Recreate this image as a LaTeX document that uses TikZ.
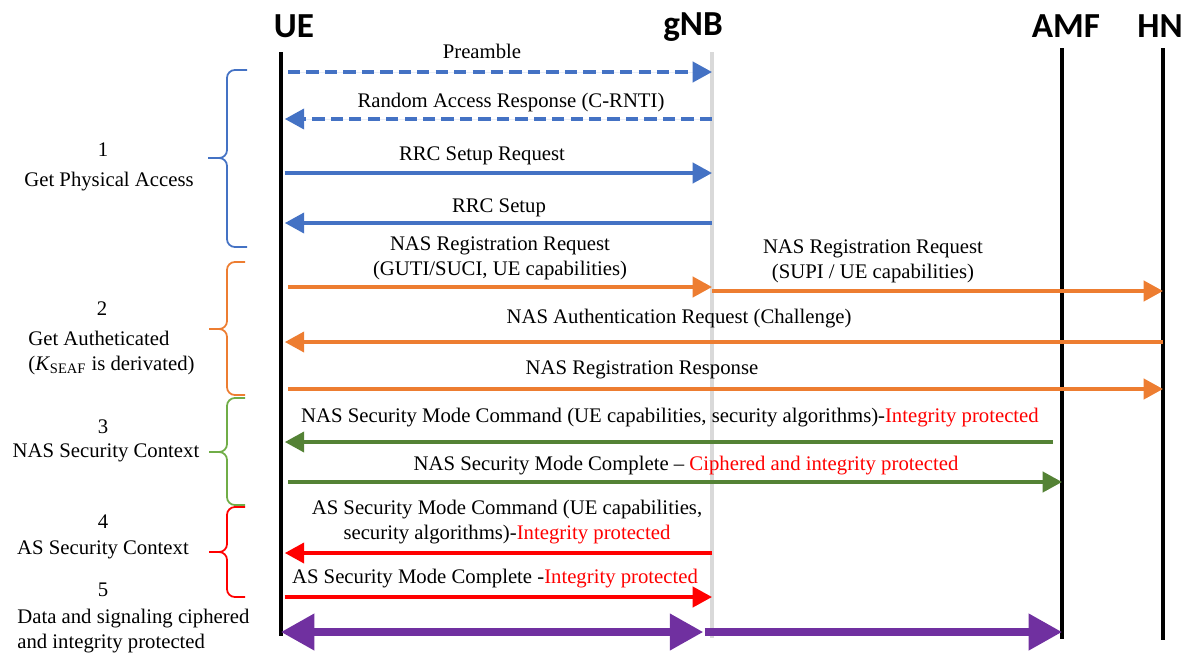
\documentclass[tikz,border=0pt]{standalone}
\usepackage{fontspec}
\setmainfont{Liberation Serif}
\newfontfamily\headfont{Carlito}
\usepackage{xcolor}
\usepackage{tikz}
\usetikzlibrary{arrows.meta}

\begin{document}
\begin{tikzpicture}[x=0.02cm,y=-0.02cm]
    \definecolor{myblue}{RGB}{68,114,196}
    \definecolor{myorange}{RGB}{237,125,49}
    \definecolor{mygreen}{RGB}{84,130,53}
    \definecolor{mygreenl}{RGB}{112,173,71}
    \definecolor{myred}{RGB}{255,0,0}
    \definecolor{mypurple}{RGB}{112,48,160}
    \definecolor{mygray}{RGB}{217,217,217}

    \fontsize{11.8pt}{14.2pt}\selectfont  % text size
    \tikzstyle{head}=[font=\headfont\bfseries\fontsize{20pt}{22pt}\selectfont]  % entity names
    \tikzstyle{life}=[line width=2.4pt]  % lifelines
    \tikzstyle{msg}=[line width=2pt,>={Triangle[length=11pt,width=11.5pt]}]  % messages
    \tikzstyle{big}=[line width=4pt,draw=mypurple,>={Triangle[length=19pt,width=20pt]}]  % data arrows
    \tikzstyle{lbl}=[inner sep=0pt,align=center]  % message texts
    \tikzstyle{brc}=[line width=1pt,rounded corners=4.5pt]  % phase braces
    \tikzstyle{toue}=[shorten >=2.2pt]  % tip stops at UE line

    \useasboundingbox (0,0) rectangle (1186,653);

    % entities
    \node[head](UE) at (294,26){UE};
    \node[head](gNB) at (693,27){gNB};
    \node[head](AMF) at (1066,26){AMF};
    \node[head](HN) at (1160,26){HN};
    \coordinate (ueT) at (281,52);
    \coordinate (ueB) at (281,636);
    \coordinate (gnbT) at (712,52);
    \coordinate (gnbB) at (712,638);
    \coordinate (amfT) at (1062,48);
    \coordinate (amfB) at (1062,639);
    \coordinate (hnT) at (1163,48);
    \coordinate (hnB) at (1163,640);
    \draw[life,draw=mygray,line width=1.8pt](gnbT)--(gnbB);
    \draw[life](ueT)--(ueB);
    \draw[life](amfT)--(amfB);
    \draw[life](hnT)--(hnB);

    % message rows
    \coordinate (m1) at (0,72);
    \coordinate (m2) at (0,119);
    \coordinate (m3) at (0,173);
    \coordinate (m4) at (0,223);
    \coordinate (m5) at (0,287);
    \coordinate (m6) at (0,291);
    \coordinate (m7) at (0,342);
    \coordinate (m8) at (0,389);
    \coordinate (m9) at (0,442);
    \coordinate (m10) at (0,482);
    \coordinate (m11) at (0,553);
    \coordinate (m12) at (0,597);
    \coordinate (m13) at (0,632);

    % labels
    \node[lbl](l1) at (482,51){Preamble};
    \node[lbl](l2) at (511,103){Random Access Response (C-RNTI)};
    \node[lbl](l3) at (482,156){RRC Setup Request};
    \node[lbl](l4) at (499,208){RRC Setup};
    \node[lbl](l5) at (500,258){NAS Registration Request\\(GUTI/SUCI, UE capabilities)};
    \node[lbl](l6) at (873,261){NAS Registration Request\\(SUPI / UE capabilities)};
    \node[lbl](l7) at (679,319){NAS Authentication Request (Challenge)};
    \node[lbl](l8) at (642,370){NAS Registration Response};
    \node[lbl](l9) at (670,418){NAS Security Mode Command (UE capabilities, security algorithms)-\textcolor{myred}{Integrity protected}};
    \node[lbl](l10) at (686,466){NAS Security Mode Complete -- \textcolor{myred}{Ciphered and integrity protected}};
    \node[lbl](l11) at (507,522){AS Security Mode Command (UE capabilities,\\security algorithms)-\textcolor{myred}{Integrity protected}};
    \node[lbl](l12) at (495,579){AS Security Mode Complete -\textcolor{myred}{Integrity protected}};

    % messages
    \draw[msg,->,draw=myblue,fill=myblue,dash pattern=on 7pt off 3.5pt]([xshift=4pt]ueT|-m1)--(gnbT|-m1);
    \draw[msg,->,draw=myblue,fill=myblue,dash pattern=on 7pt off 3.5pt,toue](gnbT|-m2)--(ueT|-m2);
    \draw[msg,->,draw=myblue,fill=myblue]([xshift=2pt]ueT|-m3)--(gnbT|-m3);
    \draw[msg,->,draw=myblue,fill=myblue,toue](gnbT|-m4)--(ueT|-m4);
    \draw[msg,->,draw=myorange,fill=myorange]([xshift=4pt]ueT|-m5)--(gnbT|-m5);
    \draw[msg,->,draw=myorange,fill=myorange](gnbT|-m6)--(hnT|-m6);
    \draw[msg,->,draw=myorange,fill=myorange,toue](hnT|-m7)--(ueT|-m7);
    \draw[msg,->,draw=myorange,fill=myorange]([xshift=4pt]ueT|-m8)--(hnT|-m8);
    \draw[msg,->,draw=mygreen,fill=mygreen,toue]([xshift=-5pt]amfT|-m9)--(ueT|-m9);
    \draw[msg,->,draw=mygreen,fill=mygreen]([xshift=4pt]ueT|-m10)--(amfT|-m10);
    \draw[msg,->,draw=myred,fill=myred,toue](gnbT|-m11)--(ueT|-m11);
    \draw[msg,->,draw=myred,fill=myred]([xshift=2pt]ueT|-m12)--(gnbT|-m12);
    \draw[big,<->,fill=mypurple](ueT|-m13)--([xshift=-5pt]gnbT|-m13);
    \draw[big,->,fill=mypurple]([xshift=-4pt]gnbT|-m13)--(amfT|-m13);

    % phases
    \draw[brc,draw=myblue](247,70)--(227,70)--(227,158)--(208,158) (208,158)--(227,158)--(227,247)--(247,247);
    \draw[brc,draw=myorange](245,262)--(227,262)--(227,329)--(209,329) (209,329)--(227,329)--(227,395)--(245,395);
    \draw[brc,draw=mygreenl](245,398)--(227,398)--(227,452)--(209,452) (209,452)--(227,452)--(227,505)--(245,505);
    \draw[brc,draw=myred](245,507)--(227,507)--(227,552)--(209,552) (209,552)--(227,552)--(227,597)--(245,597);

    \node(n1) at (103,150){1};
    \node(p1) at (109,182){Get Physical Access};
    \node(n2) at (102,309){2};
    \node[align=left,anchor=west,inner sep=0pt](p2) at (28,353){Get Autheticated\\(\textit{K}\textsubscript{SEAF} is derivated)};
    \node(n3) at (103,427){3};
    \node(p3) at (106,453){NAS Security Context};
    \node(n4) at (103,522){4};
    \node(p4) at (103,550){AS Security Context};
    \node(n5) at (103,590){5};
    \node[align=left,anchor=west,inner sep=0pt](p5) at (17,631){Data and signaling ciphered\\and integrity protected};
\end{tikzpicture}
\end{document}
